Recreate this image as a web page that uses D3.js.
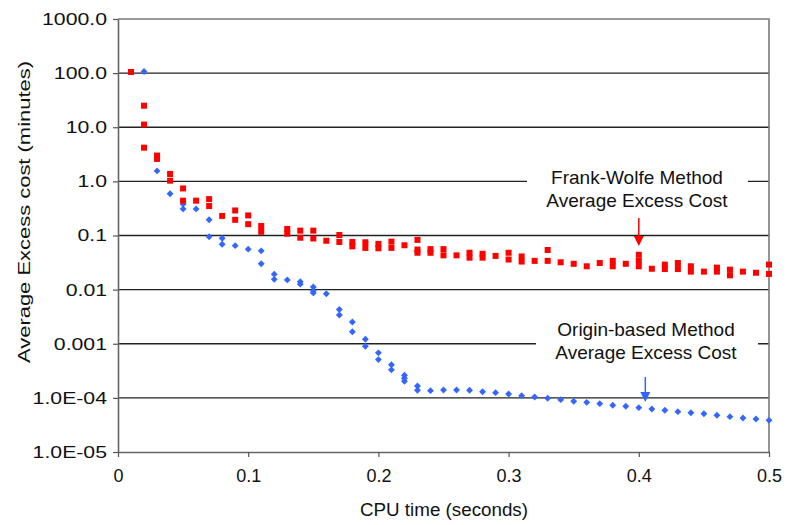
<!DOCTYPE html>
<html>
<head>
<meta charset="utf-8">
<script src="https://cdn.jsdelivr.net/npm/d3@7"></script>
<style>
  html, body { margin: 0; padding: 0; background: #fff; }
  svg { display: block; font-family: "Liberation Sans", Arial, sans-serif; }
</style>
</head>
<body>
<svg id="chart" width="787" height="525"></svg>
<script>
// ---- Data ----
const fwTime = [0.01,0.02,0.02,0.02,0.03,0.03,0.04,0.04,0.05,0.05,0.06,0.07,0.07,0.08,0.09,0.09,0.10,0.10,0.11,0.11,
  0.13,0.13,0.14,0.14,0.15,0.15,0.16,0.17,0.17,0.18,0.18,0.19,0.19,0.20,0.20,0.21,0.21,0.22,0.23,0.23,0.23,
  0.24,0.24,0.25,0.25,0.26,0.27,0.27,0.28,0.28,0.29,0.30,0.30,0.31,0.31,0.32,0.33,0.33,0.34,0.35,0.36,0.37,
  0.38,0.38,0.39,0.40,0.40,0.40,0.41,0.42,0.42,0.43,0.43,0.44,0.44,0.45,0.46,0.46,0.47,0.47,0.48,0.49,0.50,0.50];
const fwCost = [105,25,11.2,4.2,3.0,2.6,1.37,1.03,0.74,0.44,0.44,0.47,0.35,0.23,0.29,0.195,0.235,0.162,0.150,0.117,
  0.132,0.108,0.123,0.091,0.123,0.088,0.080,0.102,0.076,0.076,0.063,0.075,0.059,0.070,0.058,0.077,0.059,0.066,0.083,0.055,0.048,
  0.056,0.048,0.056,0.043,0.043,0.048,0.039,0.046,0.039,0.042,0.048,0.036,0.041,0.033,0.034,0.054,0.034,0.032,0.030,0.027,0.031,
  0.034,0.027,0.030,0.044,0.034,0.027,0.0243,0.029,0.024,0.031,0.024,0.027,0.0215,0.0215,0.0255,0.0215,0.0234,0.0184,0.0215,0.0205,0.029,0.0195];

const obTime = [0.02,0.03,0.04,0.05,0.05,0.06,0.07,0.07,0.08,0.08,0.09,0.10,0.11,0.11,0.12,0.12,0.13,0.14,0.14,
  0.15,0.15,0.15,0.16,0.17,0.17,0.18,0.18,0.19,0.19,0.20,0.20,0.21,0.21,0.22,0.22,0.22,0.23,0.23,0.24,0.25,0.26,
  0.27,0.28,0.29,0.30,0.31,0.32,0.33,0.34,0.35,0.36,0.37,0.38,0.39,0.40,0.41,0.42,0.43,0.44,0.45,0.46,0.47,0.48,0.49,0.50];
const obCost = [107,1.56,0.59,0.38,0.31,0.31,0.195,0.095,0.089,0.069,0.065,0.056,0.052,0.030,0.0193,0.0155,0.0151,0.0140,0.0126,
  0.0112,0.0095,0.0087,0.0084,0.0043,0.0034,0.00252,0.00167,0.00121,0.0009,0.00068,0.00051,0.00041,0.00033,0.000262,0.00023,0.000203,0.000166,0.000138,0.000136,0.00014,0.00014,
  0.000138,0.00013,0.000125,0.000118,0.00011,0.000104,0.0000984,0.0000927,0.0000865,0.0000828,0.0000782,0.000073,0.00007,0.0000659,0.0000624,0.000059,0.0000556,0.0000532,0.000051,0.0000477,0.000045,0.0000425,0.0000407,0.0000385];

const yTickValues = [1000,100,10,1,0.1,0.01,0.001,0.0001,0.00001];
const yTickLabels = ["1000.0","100.0","10.0","1.0","0.1","0.01","0.001","1.0E-04","1.0E-05"];
const xTickValues = [0,0.1,0.2,0.3,0.4,0.5];
const xTickLabels = ["0","0.1","0.2","0.3","0.4","0.5"];

const annotations = [
  {lines:["Frank-Wolfe Method","Average Excess Cost"], cx:637, y1:179, gapX0:527, gapX1:748, gapY:181, arrowT:0.40, arrowFrom:218, arrowTo:246, color:"#ff0000"},
  {lines:["Origin-based Method","Average Excess Cost"], cx:646, y1:331, gapX0:536, gapX1:758, gapY:344, arrowT:0.405, arrowFrom:377, arrowTo:402, color:"#3366ff"}
];

// ---- Layout ----
const svg = d3.select("#chart");
const L = 118, R = 769, T = 19, B = 452;
const x = d3.scaleLinear().domain([0,0.5]).range([L,R]);
const y = d3.scaleLog().domain([1e-5,1000]).range([B,T]);
const SX = 1.25; // horizontal stretch of the reference's tick labels

// gridlines
svg.append("g").selectAll("line").data(yTickValues.slice(1,-1)).join("line")
  .attr("x1", L).attr("x2", R).attr("y1", d=>y(d)).attr("y2", d=>y(d))
  .attr("stroke", "#222").attr("stroke-width", 1.4);

// top and right border
svg.append("path")
  .attr("d", `M${L},${y(1000)}H${R}V${B}`)
  .attr("fill","none").attr("stroke","#7a7a7a").attr("stroke-width",1.6);

// annotation gaps (white boxes)
annotations.forEach(a => {
  svg.append("rect").attr("x", a.gapX0).attr("width", a.gapX1-a.gapX0)
    .attr("y", a.gapY-4).attr("height", 8).attr("fill","#fff");
});

// axes
const yAxis = d3.axisLeft(y).tickValues(yTickValues)
  .tickFormat((d,i)=>yTickLabels[i]).tickSizeInner(5).tickSizeOuter(0).tickPadding(11);
const gy = svg.append("g").attr("transform",`translate(${L},0)`).call(yAxis);
gy.select(".domain").attr("stroke","#666").attr("stroke-width",1.6);
gy.selectAll(".tick line").attr("stroke","#555").attr("stroke-width",1.2);
gy.selectAll("text").attr("font-size",17).attr("fill","#111").attr("font-family","Liberation Sans, Arial, sans-serif")
  .attr("x", -11/SX).attr("transform", `scale(${SX},1)`);

const xAxis = d3.axisBottom(x).tickValues(xTickValues)
  .tickFormat((d,i)=>xTickLabels[i]).tickSizeInner(5).tickSizeOuter(0).tickPadding(12);
const gx = svg.append("g").attr("transform",`translate(0,${B})`).call(xAxis);
gx.select(".domain").attr("stroke","#666").attr("stroke-width",1.6);
gx.selectAll(".tick line").attr("stroke","#555").attr("stroke-width",1.2);
gx.selectAll("text").attr("font-size",18).attr("fill","#111").attr("font-family","Liberation Sans, Arial, sans-serif");

// axis titles
svg.append("text").attr("x",444).attr("y",511).attr("text-anchor","middle")
  .attr("dominant-baseline","middle").attr("font-size",18).attr("fill","#111")
  .attr("textLength",168).attr("lengthAdjust","spacingAndGlyphs")
  .text("CPU time (seconds)");
svg.append("text").attr("transform",`translate(26,212) rotate(-90)`).attr("text-anchor","middle")
  .attr("dominant-baseline","middle").attr("font-size",16.5).attr("fill","#111")
  .attr("textLength",302).attr("lengthAdjust","spacingAndGlyphs")
  .text("Average Excess cost (minutes)");

// series
const fw = fwTime.map((t,i)=>({t, v:fwCost[i]}));
const ob = obTime.map((t,i)=>({t, v:obCost[i]}));

svg.append("g").selectAll("path").data(ob).join("path")
  .attr("d", d3.symbol(d3.symbolDiamond2 || d3.symbolDiamond, 30))
  .attr("transform", d=>`translate(${x(d.t)},${y(d.v)})`)
  .attr("fill","#3366ff");

svg.append("g").selectAll("rect").data(fw).join("rect")
  .attr("x", d=>x(d.t)-3).attr("y", d=>y(d.v)-3)
  .attr("width",6).attr("height",6).attr("fill","#ff0000");

// annotations
annotations.forEach(a => {
  a.lines.forEach((s,i)=>{
    svg.append("text").attr("x",a.cx).attr("y",a.y1 + i*23).attr("text-anchor","middle")
      .attr("dominant-baseline","middle").attr("font-size",19).attr("fill","#111").text(s);
  });
  const ax = x(a.arrowT);
  svg.append("line").attr("x1",ax).attr("x2",ax).attr("y1",a.arrowFrom).attr("y2",a.arrowTo-8)
    .attr("stroke",a.color).attr("stroke-width",1.5);
  svg.append("path").attr("d",`M${ax-5},${a.arrowTo-10}L${ax+5},${a.arrowTo-10}L${ax},${a.arrowTo}Z`)
    .attr("fill",a.color);
});
</script>
</body>
</html>
